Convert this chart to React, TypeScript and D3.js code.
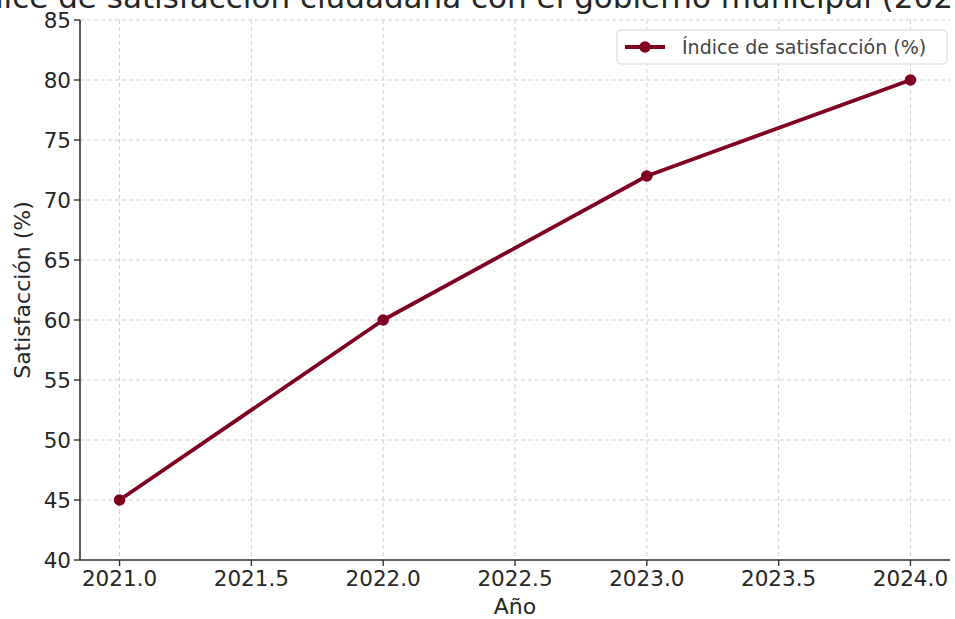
import React from "react";
import * as d3 from "d3";

const years = [2021, 2022, 2023, 2024];
const satisfaction = [45, 60, 72, 80];
const xTicks = [2021.0, 2021.5, 2022.0, 2022.5, 2023.0, 2023.5, 2024.0];
const yTicks = [40, 45, 50, 55, 60, 65, 70, 75, 80, 85];
const title = "Índice de satisfacción ciudadana con el gobierno municipal (2021-2024)";
const seriesName = "Índice de satisfacción (%)";

const W = 955, H = 619;
const left = 80, right = 950, top = 20, bottom = 560;
const color = "#800020";
const font = "DejaVu Sans, sans-serif";

export default function App() {
  const x = d3.scaleLinear().domain([2020.85, 2024.15]).range([left, right]);
  const y = d3.scaleLinear().domain([40, 85]).range([bottom, top]);
  const line = d3.line<number>().x((_, i) => x(years[i])).y((d) => y(d));
  return (
    <svg width={W} height={H} style={{ position: "absolute", left: 0, top: 0, background: "#fff" }} fontFamily={font}>
      <rect width={W} height={H} fill="#fff" />
      {xTicks.map((t) => (
        <line key={"gx" + t} x1={x(t)} x2={x(t)} y1={top} y2={bottom} stroke="#cfcfcf" strokeWidth={1} strokeDasharray="4,3" />
      ))}
      {yTicks.map((t) => (
        <line key={"gy" + t} x1={left} x2={right} y1={y(t)} y2={y(t)} stroke="#cfcfcf" strokeWidth={1} strokeDasharray="4,3" />
      ))}
      <path d={line(satisfaction) || ""} fill="none" stroke={color} strokeWidth={3.8} strokeLinejoin="round" />
      {satisfaction.map((v, i) => (
        <circle key={i} cx={x(years[i])} cy={y(v)} r={5.8} fill={color} />
      ))}
      <line x1={left} x2={left} y1={top} y2={bottom} stroke="#333" strokeWidth={1.6} />
      <line x1={left} x2={right} y1={bottom} y2={bottom} stroke="#333" strokeWidth={1.6} />
      {xTicks.map((t) => (
        <g key={"tx" + t}>
          <line x1={x(t)} x2={x(t)} y1={bottom} y2={bottom + 6} stroke="#333" strokeWidth={1.4} />
          <text x={x(t)} y={bottom + 26} textAnchor="middle" fontSize={21.5} fill="#262626">{t.toFixed(1)}</text>
        </g>
      ))}
      {yTicks.map((t) => (
        <g key={"ty" + t}>
          <line x1={left - 6} x2={left} y1={y(t)} y2={y(t)} stroke="#333" strokeWidth={1.4} />
          <text x={left - 9} y={y(t) + 7.5} textAnchor="end" fontSize={21.5} fill="#262626">{t}</text>
        </g>
      ))}
      <text x={(left + right) / 2} y={614} textAnchor="middle" fontSize={22} fill="#262626">Año</text>
      <text transform={`translate(30, ${(top + bottom) / 2}) rotate(-90)`} textAnchor="middle" fontSize={22} fill="#262626">Satisfacción (%)</text>
      <text x={(left + right) / 2} y={8} textAnchor="middle" fontSize={31} fill="#262626">{title}</text>
      <g>
        <rect x={617} y={30} width={330} height={34} rx={4} fill="#fff" fillOpacity={0.85} stroke="#d8d8d8" strokeWidth={1} />
        <line x1={625} x2={665} y1={47} y2={47} stroke={color} strokeWidth={3.8} />
        <circle cx={645} cy={47} r={5.8} fill={color} />
        <text x={682} y={54} fontSize={19} fill="#444">{seriesName}</text>
      </g>
    </svg>
  );
}
